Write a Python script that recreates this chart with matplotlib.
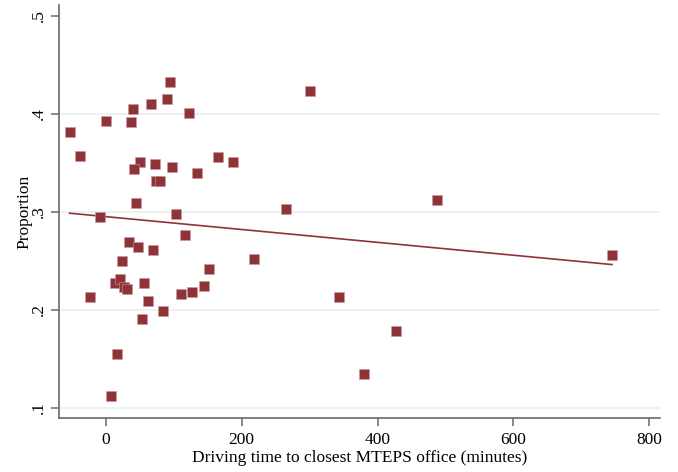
import numpy as np
import matplotlib
matplotlib.use("Agg")
import matplotlib.pyplot as plt

# Driving time (minutes) to the closest MTEPS office, and proportion per unit
driving_time = [
    -53.5, -37.8, 0.5, 36.8, 39.3, 65.8, 89.8, 94.7, 122.2, 300.4,
    50.1, 41.2, 71.7, 98.1, 74.5, 79.9, 133.5, 165.4, 187.0, 44.7,
    -8.8, 103.5, 264.7, 116.8, 34.4, 47.6, 68.8, 24.1, 217.5, 152.6,
    -24.0, 12.8, 21.1, 26.9, 31.4, 56.4, 61.9, 110.5, 127.1, 143.9,
    84.4, 53.5, 15.8, 6.9, 343.6, 745.2, 427.1, 380.4, 488.0,
]
proportion = [
    0.382, 0.357, 0.393, 0.392, 0.4055, 0.410, 0.415, 0.433, 0.401, 0.4235,
    0.3504, 0.3436, 0.3487, 0.346, 0.332, 0.332, 0.340, 0.3555, 0.3504, 0.309,
    0.2943, 0.2973, 0.303, 0.2762, 0.2694, 0.2637, 0.2606, 0.2494, 0.2514, 0.2415,
    0.2127, 0.2276, 0.2316, 0.2229, 0.2208, 0.2269, 0.2092, 0.2157, 0.2177, 0.2242,
    0.1984, 0.1902, 0.1545, 0.1116, 0.2130, 0.2555, 0.1786, 0.1344, 0.312,
]
x_ticks = [0, 200, 400, 600, 800]
y_ticks = [0.1, 0.2, 0.3, 0.4, 0.5]
y_tick_labels = [".1", ".2", ".3", ".4", ".5"]

plt.rcParams["font.family"] = ["Liberation Serif", "DejaVu Serif"]

maroon = "#8f3339"
axis_grey = "#6a6a6a"

fig = plt.figure(figsize=(6.78, 4.72), dpi=100)
ax = fig.add_axes([0.087, 0.115, 0.8865, 0.874])

x = np.asarray(driving_time)
y = np.asarray(proportion)

# horizontal grid lines
for g in y_ticks[:-1]:
    ax.axhline(g, color="#eaf1f1", lw=1.3, zorder=0)

ax.scatter(x, y, marker="s", s=58, color=maroon, edgecolors="#c99a9d",
           linewidths=0.4, zorder=3)

# linear fit over the observed range
slope, intercept = np.polyfit(x, y, 1)
xf = np.array([x.min(), x.max()])
ax.plot(xf, intercept + slope * xf, color=maroon, lw=1.2, zorder=2)

ax.set_xlim(-69, 816)
ax.set_ylim(0.0898, 0.511)
ax.set_xticks(x_ticks)
ax.set_yticks(y_ticks)
ax.set_yticklabels(y_tick_labels, rotation=90, va="center")

for side in ("top", "right"):
    ax.spines[side].set_visible(False)
for side in ("left", "bottom"):
    ax.spines[side].set_color(axis_grey)
    ax.spines[side].set_linewidth(1.2)

ax.tick_params(axis="both", direction="out", length=6, width=1.1,
               color=axis_grey, labelsize=12.5, pad=4)
ax.tick_params(axis="y", pad=2.5)

ax.set_xlabel("Driving time to closest MTEPS office (minutes)", fontsize=12.5,
              labelpad=2)
ax.set_ylabel("Proportion", fontsize=12.5, labelpad=-1)

fig.savefig("out.png", dpi=100)
